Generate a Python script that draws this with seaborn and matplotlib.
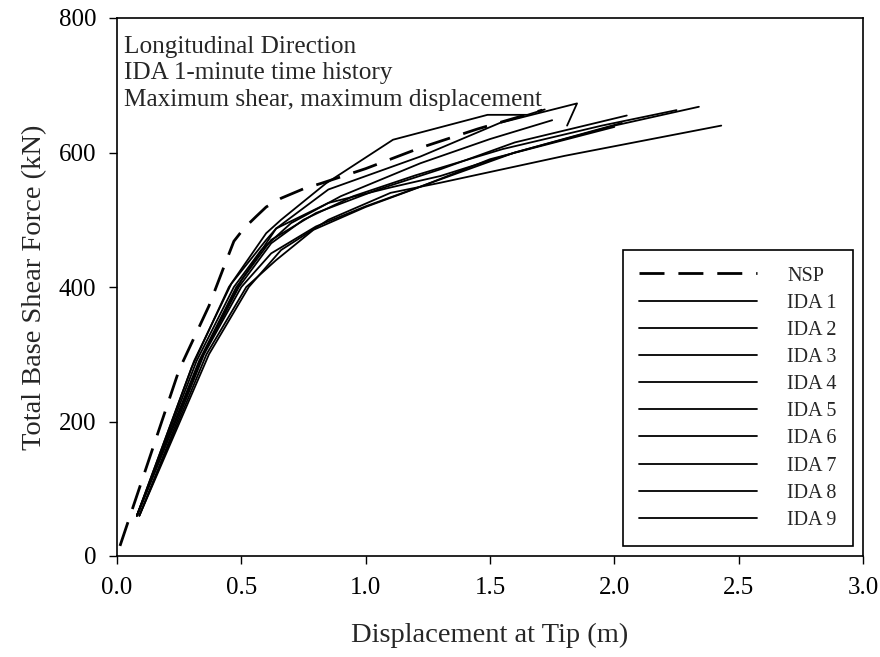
import matplotlib
matplotlib.use("Agg")
import matplotlib.pyplot as plt
import seaborn as sns
import pandas as pd

sns.set_theme(style="ticks")
plt.rcParams['font.family'] = ['Liberation Serif', 'DejaVu Serif']

# ---- data (displacement m, base shear kN) ----
nsp_x = [0.012, 0.25, 0.37, 0.43, 0.47, 0.51, 0.56, 0.60, 0.66, 0.75, 0.82, 1.00, 1.22, 1.45, 1.71]
nsp_y = [15, 277, 372, 430, 468, 487, 505, 519, 532, 546, 554, 576, 607, 635, 663]

ida1_x = [0.08, 0.30, 0.45, 0.60, 0.66, 0.84, 1.11, 1.49, 1.65, 1.72]
ida1_y = [60, 280, 400, 480, 500, 554, 619, 656, 656, 664]
ida2_x = [0.08, 0.32, 0.47, 0.58, 0.70, 0.90, 1.22, 1.50, 1.75]
ida2_y = [60, 290, 400, 455, 495, 535, 584, 620, 648]
ida3_x = [0.08, 0.31, 0.46, 0.60, 0.64, 0.85, 1.22, 1.54, 1.85, 1.81]
ida3_y = [60, 290, 405, 470, 487, 545, 594, 644, 673, 640]
ida4_x = [0.09, 0.35, 0.50, 0.62, 0.80, 1.00, 1.30, 1.60, 2.03]
ida4_y = [60, 300, 400, 450, 490, 520, 560, 600, 644]
ida5_x = [0.08, 0.33, 0.48, 0.62, 0.80, 1.05, 1.30, 1.60, 2.05]
ida5_y = [60, 290, 400, 470, 510, 545, 575, 615, 655]
ida6_x = [0.09, 0.36, 0.52, 0.64, 0.79, 1.00, 1.22, 1.50, 2.00]
ida6_y = [60, 300, 400, 440, 485, 519, 549, 590, 638]
ida7_x = [0.08, 0.34, 0.50, 0.64, 0.85, 1.10, 1.30, 1.60, 2.00, 2.34]
ida7_y = [60, 295, 410, 487, 525, 548, 565, 600, 640, 668]
ida8_x = [0.09, 0.37, 0.53, 0.66, 0.85, 1.10, 1.30, 1.80, 2.43]
ida8_y = [60, 300, 400, 455, 500, 540, 555, 595, 640]
ida9_x = [0.08, 0.34, 0.49, 0.62, 0.75, 0.95, 1.20, 1.55, 1.95, 2.25]
ida9_y = [60, 295, 400, 465, 500, 535, 566, 605, 640, 663]

ida_x = [ida1_x, ida2_x, ida3_x, ida4_x, ida5_x, ida6_x, ida7_x, ida8_x, ida9_x]
ida_y = [ida1_y, ida2_y, ida3_y, ida4_y, ida5_y, ida6_y, ida7_y, ida8_y, ida9_y]
ida_labels = [f"IDA {i}" for i in range(1, 10)]

x_ticks = [0.0, 0.5, 1.0, 1.5, 2.0, 2.5, 3.0]
y_ticks = [0, 200, 400, 600, 800]
notes = ["Longitudinal Direction", "IDA 1-minute time history",
         "Maximum shear, maximum displacement"]

# ---- figure ----
fig = plt.figure(figsize=(8.8, 6.57), dpi=100)
ax = fig.add_axes([117/880, 1 - 556/657, (863-117)/880, (556-18)/657])

nsp_df = pd.DataFrame({"x": nsp_x, "y": nsp_y})
sns.lineplot(data=nsp_df, x="x", y="y", ax=ax, sort=False, estimator=None,
             color="black", linewidth=2.0, dashes=False, label="NSP")
ax.lines[-1].set_dashes([9, 5])

for xs, ys, lab in zip(ida_x, ida_y, ida_labels):
    df = pd.DataFrame({"x": xs, "y": ys})
    sns.lineplot(data=df, x="x", y="y", ax=ax, sort=False, estimator=None,
                 color="black", linewidth=1.3, label=lab)

ax.set_xlim(0, 3.0)
ax.set_ylim(0, 800)
ax.set_xticks(x_ticks)
ax.set_xticklabels([f"{v:.1f}" for v in x_ticks])
ax.set_yticks(y_ticks)
ax.set_yticklabels([str(v) for v in y_ticks])
ax.tick_params(axis="both", which="major", direction="out", length=6, width=1.0,
               labelsize=18, pad=9, colors="black")
for s in ax.spines.values():
    s.set_visible(True)
    s.set_linewidth(1.2)
    s.set_color("black")

ax.set_xlabel("Displacement at Tip (m)", fontsize=20.5, labelpad=17)
ax.set_ylabel("Total Base Shear Force (kN)", fontsize=20.5, labelpad=8)

for i, t in enumerate(notes):
    ax.text(0.0094, 0.947 - i * 0.0495, t, transform=ax.transAxes,
            fontsize=18.2, va="center", ha="left")

leg = ax.legend(loc="lower right", bbox_to_anchor=(0.9866, 0.0186),
                borderaxespad=0, fontsize=14.5, handlelength=5.85,
                handletextpad=1.5, labelspacing=0.40, borderpad=0.8,
                fancybox=False, frameon=True, framealpha=1)
leg.get_frame().set_edgecolor("black")
leg.get_frame().set_linewidth(1.2)

fig.savefig("out.png", dpi=100)
